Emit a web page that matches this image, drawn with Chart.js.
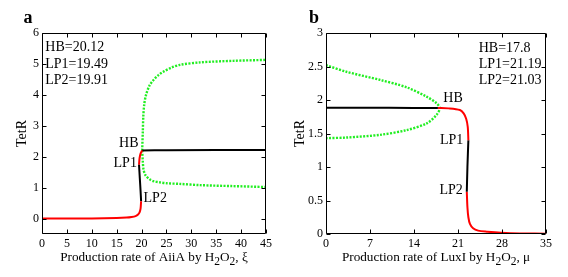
<!DOCTYPE html>
<html lang="en">
<head>
<meta charset="utf-8" />
<title>TetR bifurcation diagrams</title>
<script src="https://cdn.jsdelivr.net/npm/chart.js@4/dist/chart.umd.min.js"></script>
<style>
  html, body { margin: 0; padding: 0; background: #fff; }
  #wrap { display: flex; width: 568px; height: 277px; }
  canvas { display: block; }
</style>
</head>
<body>
<div id="wrap">
  <canvas id="chartA" width="284" height="277"></canvas>
  <canvas id="chartB" width="284" height="277"></canvas>
</div>
<script>
// ---- panel a : TetR vs xi ----
const xTicksA = [0, 5, 10, 15, 20, 25, 30, 35, 40, 45]
const yTicksA = [0, 1, 2, 3, 4, 5, 6]
const lowStableA = [[0, 0], [10, 0.005], [15, 0.015], [17, 0.03], [18, 0.05], [18.8, 0.08], [19.3, 0.13], [19.6, 0.2], [19.8, 0.32], [19.91, 0.56]]
const saddleA = [[19.91, 0.56], [19.8, 0.9], [19.65, 1.3], [19.49, 1.74]]
const midStableA = [[19.49, 1.74], [19.6, 1.95], [19.8, 2.1], [20.12, 2.2]]
const unstableA = [[20.12, 2.2], [25, 2.21], [45, 2.22]]
const orbitMaxA = [[20.12, 2.2], [20.25, 2.8], [20.35, 3.3], [20.55, 3.7], [20.9, 4.0], [21.6, 4.3], [22.4, 4.48], [23.4, 4.64], [24.4, 4.75], [26, 4.88], [27.7, 4.97], [31.8, 5.05], [38.4, 5.1], [45, 5.13]]
const orbitMinA = [[20.12, 2.2], [20.25, 1.85], [20.4, 1.58], [20.8, 1.4], [21.7, 1.26], [22.4, 1.21], [23.7, 1.17], [25.1, 1.14], [27.7, 1.12], [31.8, 1.08], [38, 1.05], [45, 1.02]]
const infoA = ['HB=20.12', 'LP1=19.49', 'LP2=19.91']

// ---- panel b : TetR vs mu ----
const xTicksB = [0, 7, 14, 21, 28, 35]
const yTicksB = [0, 0.5, 1, 1.5, 2, 2.5, 3]
const yLabelsB = ['0', '0.5', '1', '1.5', '2', '2.5', '3']
const unstableB = [[0, 1.885], [10, 1.883], [17.8, 1.88]]
const highStableB = [[17.8, 1.88], [19.5, 1.875], [21.3, 1.85], [21.9, 1.8], [22.3, 1.72], [22.55, 1.6], [22.65, 1.4]]
const saddleB = [[22.65, 1.4], [22.5, 1.0], [22.4, 0.63]]
const lowStableB = [[22.4, 0.63], [22.5, 0.4], [22.65, 0.25], [22.9, 0.15], [23.4, 0.085], [24.2, 0.05], [25.6, 0.035], [29.3, 0.012], [35, 0.005]]
const orbitB = [[0, 2.52], [3.3, 2.42], [8.6, 2.3], [12.8, 2.19], [16, 2.05], [17.6, 1.95], [18.1, 1.88], [17.6, 1.78], [16, 1.65], [12.8, 1.55], [8.6, 1.48], [3.3, 1.44], [0, 1.43]]
const infoB = ['HB=17.8', 'LP1=21.19', 'LP2=21.03']

const SERIF = '"Liberation Serif", "Times New Roman", serif'
Chart.defaults.color = '#000'
Chart.defaults.font.family = SERIF

const pts = arr => arr.map(([x, y]) => ({ x, y }))

function branch(data, color) {
  return { data: pts(data), borderColor: color, backgroundColor: color, borderWidth: 2, showLine: true, pointRadius: 0, tension: 0.3, fill: false }
}
function orbit(data) {
  return { data: pts(data), borderColor: '#22ee22', backgroundColor: '#22ee22', borderWidth: 2.4, borderDash: [2, 1.4], showLine: true, pointRadius: 0, tension: 0.3, fill: false }
}

// box + inward ticks, MATLAB style
const frameTicks = {
  id: 'frameTicks',
  afterDraw(chart) {
    const ctx = chart.ctx
    const a = chart.chartArea
    const x = chart.scales.x, y = chart.scales.y
    const L = Math.round(a.left) + 0.5, R = Math.round(a.right) - 0.5
    const T = Math.round(a.top) + 0.5, B = Math.round(a.bottom) - 0.5
    ctx.save()
    ctx.setLineDash([])
    ctx.strokeStyle = '#000000'
    ctx.lineWidth = 1
    ctx.beginPath()
    ctx.rect(L, T, R - L, B - T)
    x.ticks.forEach(t => {
      const px = Math.round(x.getPixelForValue(t.value)) + 0.5
      ctx.moveTo(px, B); ctx.lineTo(px, B - 4)
      ctx.moveTo(px, T); ctx.lineTo(px, T + 4)
    })
    y.ticks.forEach(t => {
      const py = Math.round(y.getPixelForValue(t.value)) + 0.5
      ctx.moveTo(L, py); ctx.lineTo(L + 4, py)
      ctx.moveTo(R, py); ctx.lineTo(R - 4, py)
    })
    ctx.stroke()
    ctx.restore()
  }
}

// text notes: panel letter, info block, point labels, x title with subscripts
const notes = {
  id: 'notes',
  afterDraw(chart, args, o) {
    const { ctx, chartArea: a, scales: { x, y } } = chart
    ctx.save()
    ctx.fillStyle = '#000'
    ctx.textBaseline = 'middle'

    ctx.font = 'bold 18px ' + SERIF
    ctx.textAlign = 'center'
    ctx.fillText(o.letter, o.letterX, 18)

    ctx.font = '14px ' + SERIF
    ctx.textAlign = 'left'
    o.info.forEach((s, i) => ctx.fillText(s, x.getPixelForValue(o.infoAt[0]), y.getPixelForValue(o.infoAt[1]) + i * 16.3))

    o.labels.forEach(([s, lx, ly, al]) => {
      ctx.textAlign = al
      ctx.fillText(s, x.getPixelForValue(lx), y.getPixelForValue(ly))
    })

    // x-axis title
    const parts = o.xTitle
    ctx.textBaseline = 'alphabetic'
    ctx.textAlign = 'left'
    let w = 0
    parts.forEach(([s, sub]) => { ctx.font = (sub ? '11.5px ' : '13.2px ') + SERIF; w += ctx.measureText(s).width })
    let cx = (a.left + a.right) / 2 - w / 2
    parts.forEach(([s, sub]) => {
      ctx.font = (sub ? '11.5px ' : '13.2px ') + SERIF
      ctx.fillText(s, cx, sub ? 265 : 261)
      cx += ctx.measureText(s).width
    })
    ctx.restore()
  }
}

function makeChart(id, cfg) {
  const tickFont = { size: 12, family: SERIF }
  return new Chart(document.getElementById(id), {
    type: 'scatter',
    data: { datasets: cfg.datasets },
    plugins: [notes, frameTicks],
    options: {
      responsive: false,
      animation: false,
      layout: { padding: { top: 33, right: cfg.padRight, left: 0, bottom: 0 } },
      plugins: { legend: { display: false }, tooltip: { enabled: false }, notes: cfg.notes },
      scales: {
        x: {
          type: 'linear', min: cfg.xMin, max: cfg.xMax,
          afterBuildTicks: s => { s.ticks = cfg.xTicks.map(v => ({ value: v })) },
          afterFit: s => { s.height = 43 },
          grid: { display: false, drawTicks: false }, border: { display: false },
          ticks: { font: tickFont, padding: 3, maxRotation: 0, autoSkip: false }
        },
        y: {
          type: 'linear', min: cfg.yMin, max: cfg.yMax,
          afterBuildTicks: s => { s.ticks = cfg.yTicks.map(v => ({ value: v })) },
          afterFit: s => { s.width = 42 },
          grid: { display: false, drawTicks: false }, border: { display: false },
          ticks: { font: tickFont, padding: 3, autoSkip: false, callback: cfg.yFmt },
          title: { display: true, text: 'TetR', font: { size: 14, family: SERIF }, padding: { top: cfg.yTitlePad, bottom: 0 } }
        }
      }
    }
  })
}

makeChart('chartA', {
  datasets: [branch(lowStableA, '#ff0000'), branch(saddleA, '#000000'), branch(midStableA, '#ff0000'), branch(unstableA, '#000000'), orbit(orbitMaxA), orbit(orbitMinA)],
  xMin: 0, xMax: 45, yMin: -0.5, yMax: 6, xTicks: xTicksA, yTicks: yTicksA,
  yFmt: v => String(v),
  padRight: 18, yTitlePad: 13.5,
  notes: {
    letter: 'a', letterX: 28, info: infoA, infoAt: [0.66, 5.53],
    labels: [['HB', 19.38, 2.42, 'right'], ['LP1', 19.06, 1.8, 'right'], ['LP2', 20.4, 0.65, 'left']],
    xTitle: [['Production rate of AiiA by H'], ['2', true], ['O'], ['2', true], [', \u03be']]
  }
})

makeChart('chartB', {
  datasets: [branch(unstableB, '#000000'), branch(highStableB, '#ff0000'), branch(saddleB, '#000000'), branch(lowStableB, '#ff0000'), orbit(orbitB)],
  xMin: 0, xMax: 35, yMin: 0, yMax: 3, xTicks: xTicksB, yTicks: yTicksB,
  yFmt: (v, i) => yLabelsB[i],
  padRight: 22, yTitlePad: 7.8,
  notes: {
    letter: 'b', letterX: 30, info: infoB, infoAt: [24.3, 2.776],
    labels: [['HB', 18.66, 2.03, 'left'], ['LP1', 21.84, 1.4, 'right'], ['LP2', 21.75, 0.657, 'right']],
    xTitle: [['Production rate of LuxI by H'], ['2', true], ['O'], ['2', true], [', \u03bc']]
  }
})
</script>
</body>
</html>
